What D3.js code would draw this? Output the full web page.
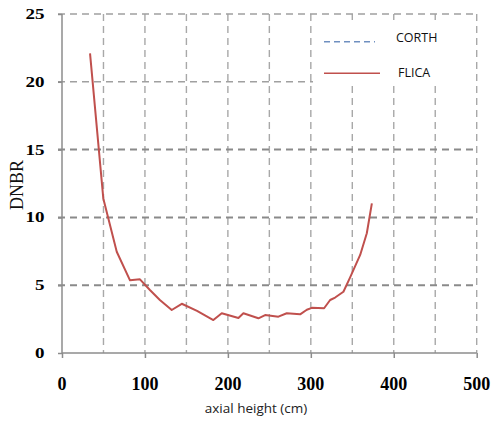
<!DOCTYPE html>
<html>
<head>
<meta charset="utf-8">
<script src="https://cdn.jsdelivr.net/npm/d3@7"></script>
<style>
  html, body { margin: 0; padding: 0; background: #fff; }
  svg { display: block; }
</style>
</head>
<body>
<svg id="chart" width="493" height="421"></svg>
<script>
// FLICA DNBR profile along the axial height
const axialHeight = [33.8, 49.8, 66, 82, 94, 106, 118, 132.3, 144.4, 162.8, 182.5, 192.6, 212.7, 218.7,
  236.8, 244.9, 260.9, 271, 287.1, 295.2, 301.2, 316, 323.3, 329.3, 339.3, 347.4, 359.5, 367.5, 373.6];
const flicaDNBR = [22.1, 11.4, 7.47, 5.36, 5.43, 4.65, 3.91, 3.17, 3.63, 3.1, 2.43, 2.93, 2.58, 2.93,
  2.56, 2.8, 2.68, 2.93, 2.85, 3.19, 3.33, 3.3, 3.91, 4.09, 4.52, 5.58, 7.23, 8.83, 11.04];

const xTicks = [0, 100, 200, 300, 400, 500];
const xGrid = [50, 100, 150, 200, 250, 300, 350, 400, 450, 500];
const yTicks = [0, 5, 10, 15, 20, 25];
const legendItems = ["CORTH", "FLICA"];

const svg = d3.select("#chart");
const x = d3.scaleLinear().domain([0, 500]).range([62, 476.7]);
const y = d3.scaleLinear().domain([0, 25]).range([353, 14]);

// vertical dashed grid
svg.append("g").selectAll("line").data(xGrid).join("line")
  .attr("x1", d => x(d)).attr("x2", d => x(d))
  .attr("y1", y(25)).attr("y2", y(0))
  .attr("stroke", "#a8a8a8").attr("stroke-width", 1.4)
  .attr("stroke-dasharray", "7,5");

// horizontal dashed grid
svg.append("g").selectAll("line").data(yTicks.filter(d => d > 0)).join("line")
  .attr("x1", x(0) - 4).attr("x2", x(500))
  .attr("y1", d => y(d)).attr("y2", d => y(d))
  .attr("stroke", d => d >= 20 ? "#a0a0a0" : "#8a8a8a")
  .attr("stroke-width", d => d >= 20 ? 1.4 : 2)
  .attr("stroke-dasharray", "7,5");

// axes (solid lines with outward ticks)
const xAxis = d3.axisBottom(x).tickValues(xTicks).tickSize(5).tickFormat("");
const gx = svg.append("g").attr("transform", `translate(0,${y(0)})`).call(xAxis);
gx.select(".domain").attr("stroke", "#8c8c8c").attr("stroke-width", 1.5).attr("d", `M${x(0)},0H${x(500)}`);
gx.selectAll(".tick line").attr("stroke", "#8c8c8c").attr("stroke-width", 1.5);

const yAxis = d3.axisLeft(y).tickValues(yTicks).tickSize(4).tickFormat("");
const gy = svg.append("g").attr("transform", `translate(${x(0)},0)`).call(yAxis);
gy.select(".domain").attr("stroke", "#8c8c8c").attr("stroke-width", 1.5).attr("d", `M0,${y(0)}V${y(25)}`);
gy.selectAll(".tick line").attr("stroke", "#8c8c8c").attr("stroke-width", 1.5);

// tick labels
svg.append("g").selectAll("text").data(xTicks).join("text")
  .attr("x", d => x(d)).attr("y", 390)
  .attr("text-anchor", "middle")
  .style("font-family", "'Liberation Serif', 'Times New Roman', serif")
  .style("font-weight", "bold").style("font-size", "18px").style("fill", "#000")
  .text(d => d);

svg.append("g").selectAll("text").data(yTicks).join("text")
  .attr("transform", d => `translate(44.5,${y(d) + 5}) scale(1,0.78)`)
  .attr("text-anchor", "end")
  .style("font-family", "'Liberation Serif', 'Times New Roman', serif")
  .style("font-weight", "bold").style("font-size", "19px").style("fill", "#000")
  .text(d => d);

// axis titles
svg.append("text")
  .attr("x", 256).attr("y", 413).attr("text-anchor", "middle")
  .style("font-family", "'Open Sans', sans-serif").style("font-size", "13.5px").style("fill", "#222")
  .text("axial height (cm)");

svg.append("text")
  .attr("transform", "translate(23,185) rotate(-90)")
  .attr("text-anchor", "middle")
  .style("font-family", "'Liberation Serif', 'Times New Roman', serif")
  .style("font-size", "18px").style("fill", "#111")
  .text("DNBR");

// FLICA curve
const line = d3.line().x(d => x(d[0])).y(d => y(d[1]));
svg.append("path")
  .datum(d3.zip(axialHeight, flicaDNBR))
  .attr("d", line)
  .attr("fill", "none").attr("stroke", "#c0504d").attr("stroke-width", 2)
  .attr("stroke-linejoin", "round");

// legend
const lg = svg.append("g");
lg.append("rect").attr("x", 313).attr("y", 20).attr("width", 161).attr("height", 65).attr("fill", "#fff");
const legendStyle = [
  { y: 41.7, color: "#6f8fc0", dash: "6,4", x2: 375 },
  { y: 73.3, color: "#c0504d", dash: null, x2: 380 }
];
legendItems.forEach((name, i) => {
  const s = legendStyle[i];
  lg.append("line").attr("x1", 324).attr("x2", s.x2).attr("y1", s.y).attr("y2", s.y)
    .attr("stroke", s.color).attr("stroke-width", 1.6)
    .attr("stroke-dasharray", s.dash);
  lg.append("text").attr("x", i === 0 ? 396 : 398).attr("y", s.y + (i === 0 ? 0 : 4))
    .style("font-family", "'Open Sans', sans-serif").style("font-size", "12.5px").style("fill", "#111")
    .text(name);
});
</script>
</body>
</html>
